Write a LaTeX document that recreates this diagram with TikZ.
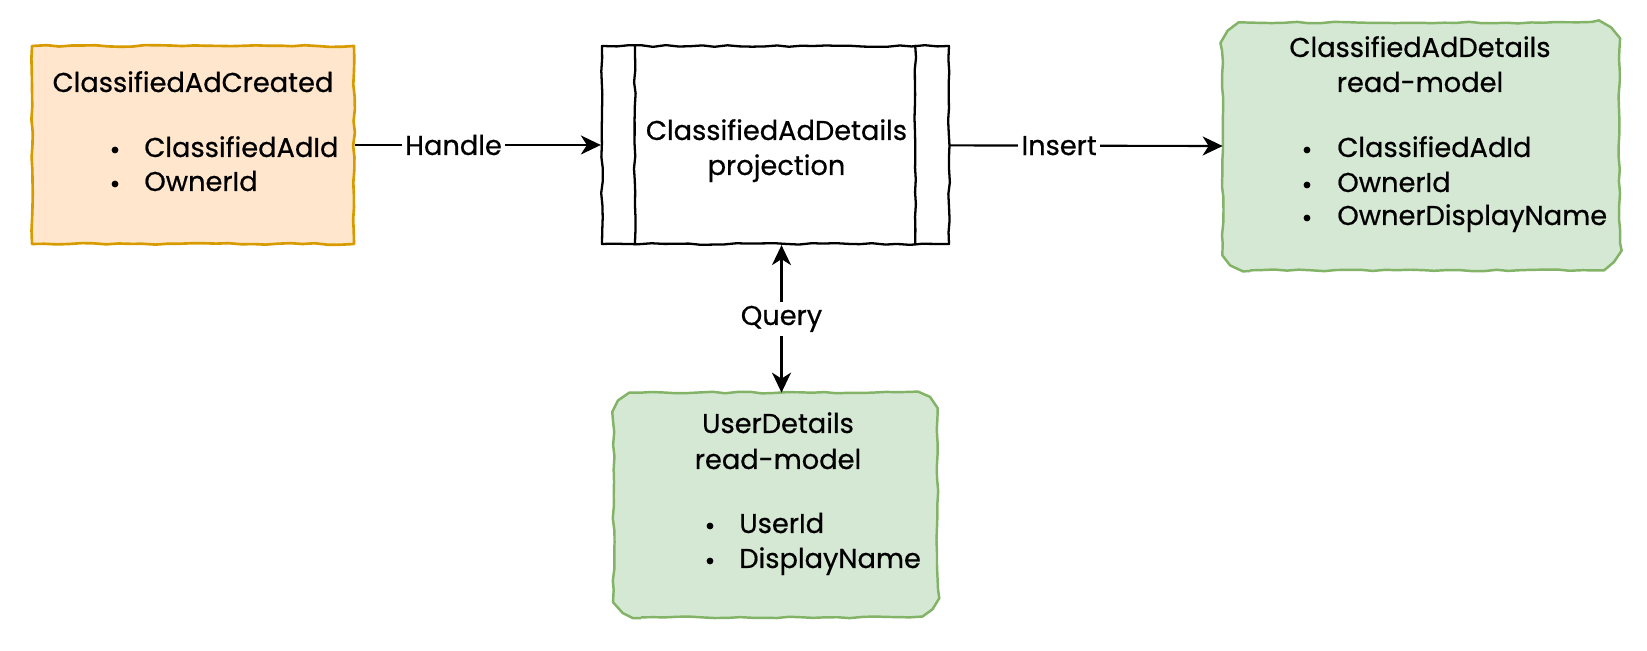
\documentclass[tikz,border=0pt]{standalone}
\usepackage{fontspec}
\setmainfont{Poppins}[FakeBold=0.6]
\usetikzlibrary{arrows.meta,decorations.pathmorphing}

\definecolor{evtfill}{HTML}{FFE6CC}
\definecolor{evtline}{HTML}{D79B00}
\definecolor{rmfill}{HTML}{D5E8D4}
\definecolor{rmline}{HTML}{82B366}

\tikzset{
  sketch/.style={decorate, decoration={random steps, segment length=7pt, amplitude=0.5pt}, line join=round},
  txt/.style={inner sep=0pt},
  lbl/.style={fill=white, inner sep=2pt},
}

% rounded hand-drawn outline round a node
\def\rr{5.5mm}
\newcommand{\sketchround}[2]{%
  \draw[sketch, #2] ([xshift=\rr]#1.south west) -- ([xshift=-\rr]#1.south east)
    arc[start angle=-90, end angle=0, radius=\rr] -- ([yshift=-\rr]#1.north east)
    arc[start angle=0, end angle=90, radius=\rr] -- ([xshift=\rr]#1.north west)
    arc[start angle=90, end angle=180, radius=\rr] -- ([yshift=\rr]#1.south west)
    arc[start angle=180, end angle=270, radius=\rr] -- cycle;}

\begin{document}
\begin{tikzpicture}[x=0.2mm, y=0.2mm, font=\fontsize{15.5}{20}\selectfont,
    >={Stealth[length=4mm, width=3.8mm, inset=1.2mm]}]
  \pgfmathsetseed{7}
  \useasboundingbox (0,0) rectangle (1647,651);

  % boxes
  \node[draw=evtline, fill=evtfill, line width=1.5pt, sketch, minimum width=64.4mm, minimum height=39.6mm] (created) at (193,506) {};
  \node[draw, fill=white, line width=1.3pt, sketch, minimum width=69.4mm, minimum height=39.6mm] (proj) at (775.5,506) {};
  \draw[sketch, line width=1.3pt] ([xshift=6.8mm]proj.north west) -- ([xshift=6.8mm]proj.south west);
  \draw[sketch, line width=1.3pt] ([xshift=-7mm]proj.north east) -- ([xshift=-7mm]proj.south east);
  \node[minimum width=79.2mm, minimum height=49.4mm] (admodel) at (1421,504.5) {};
  \node[minimum width=64.6mm, minimum height=44.8mm] (usermodel) at (775.5,146) {};
  \sketchround{admodel}{draw=rmline, fill=rmfill, line width=1.4pt}
  \sketchround{usermodel}{draw=rmline, fill=rmfill, line width=1.4pt}

  % ClassifiedAdCreated
  \node[txt, anchor=base] (created-title) at (193,559) {ClassifiedAdCreated};
  \node[txt, anchor=base west] (created-id) at (144,494) {ClassifiedAdId};
  \node[txt, anchor=base west] (created-owner) at (144,460) {OwnerId};
  \fill (115,501) circle (3.4);
  \fill (115,467) circle (3.4);

  % projection
  \node[txt, anchor=base] (proj-name) at (776.5,511) {ClassifiedAdDetails};
  \node[txt, anchor=base] (proj-kind) at (776.5,476) {projection};

  % ClassifiedAdDetails read-model
  \node[txt, anchor=base] (admodel-name) at (1420,594) {ClassifiedAdDetails};
  \node[txt, anchor=base] (admodel-kind) at (1420,559) {read-model};
  \node[txt, anchor=base west] (admodel-id) at (1337,494) {ClassifiedAdId};
  \node[txt, anchor=base west] (admodel-owner) at (1337,459) {OwnerId};
  \node[txt, anchor=base west] (admodel-display) at (1337,426) {OwnerDisplayName};
  \fill (1307,501) circle (3.4);
  \fill (1307,466) circle (3.4);
  \fill (1307,433) circle (3.4);

  % UserDetails read-model
  \node[txt, anchor=base] (usermodel-name) at (778,218) {UserDetails};
  \node[txt, anchor=base] (usermodel-kind) at (778,182) {read-model};
  \node[txt, anchor=base west] (usermodel-id) at (739,118) {UserId};
  \node[txt, anchor=base west] (usermodel-display) at (739,83) {DisplayName};
  \fill (710,125) circle (3.4);
  \fill (710,90) circle (3.4);

  % connectors
  \draw[->, line width=1.2pt] (created) -- node[lbl, pos=0.4] (handle) {Handle} (proj);
  \draw[->, line width=1.2pt] (proj) -- node[lbl, pos=0.4] (insert) {Insert} (admodel);
  \draw[<->, line width=1.2pt] ([xshift=1.2mm]proj.south) -- node[lbl] (query) {Query} ([xshift=1.2mm]usermodel.north);
\end{tikzpicture}
\end{document}
